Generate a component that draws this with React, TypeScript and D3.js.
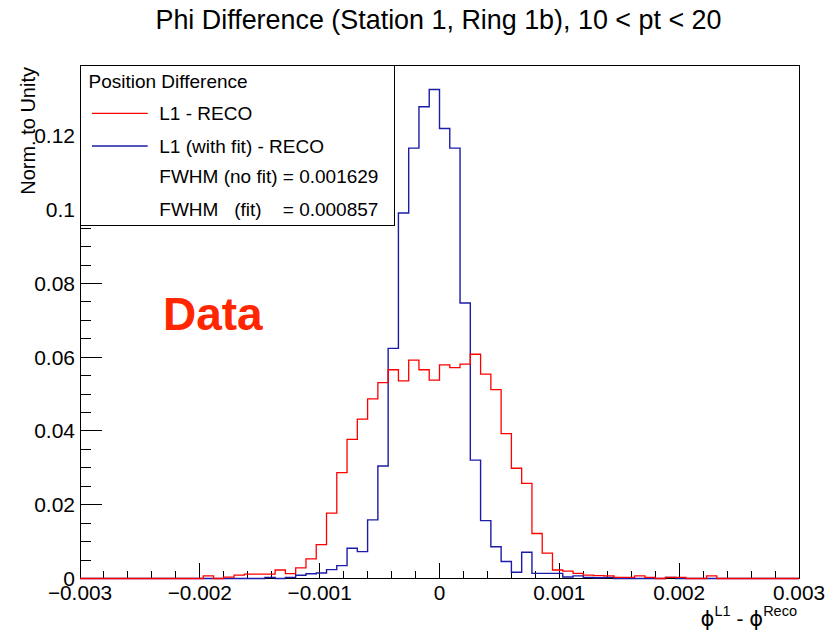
import React from 'react';
import * as d3 from 'd3';

const xMin = -0.003;
const xMax = 0.003;
const nBins = 70;

const redValues = [
  0, 0, 0, 0, 0, 0, 0, 0, 0, 0, 0, 0,
  0.0007, 0, 0.0004, 0.0009, 0.0012, 0.0012, 0.0012, 0.0023, 0.0013, 0.0029,
  0.0053, 0.0092, 0.0177, 0.0287, 0.0377, 0.0432, 0.0487, 0.0531, 0.0566, 0.0536,
  0.0592, 0.0566, 0.0538, 0.0579, 0.0572, 0.0581, 0.0608, 0.0554, 0.0512, 0.0393,
  0.0299, 0.0258, 0.0122, 0.0069, 0.0023, 0.0020, 0.0014, 0.0009, 0.0008, 0.0007,
  0.0003, 0.0003, 0.0007, 0.0003, 0, 0.0003, 0.0003, 0, 0, 0.0007,
  0, 0, 0, 0, 0, 0, 0, 0,
];

const blueValues = [
  0, 0, 0, 0, 0, 0, 0, 0, 0, 0, 0, 0, 0, 0, 0, 0, 0, 0,
  0.0003, 0, 0.0003, 0.0009, 0.0013, 0.0015, 0.0024, 0.0035, 0.0082, 0.0073,
  0.0159, 0.0305, 0.0624, 0.0991, 0.1167, 0.1279, 0.1326, 0.1220, 0.1167, 0.0747,
  0.0321, 0.0157, 0.0086, 0.0046, 0.0017, 0.0071, 0.0014, 0.0014, 0.0014, 0.0004,
  0.0007, 0.0003, 0.0002, 0.0003, 0, 0, 0, 0, 0, 0.0003,
  0, 0, 0, 0, 0, 0, 0, 0, 0, 0, 0, 0,
];

const xTickValues = [-0.003, -0.002, -0.001, 0, 0.001, 0.002, 0.003];
const xTickLabels = ['\u22120.003', '\u22120.002', '\u22120.001', '0', '0.001', '0.002', '0.003'];
const yTickValues = [0, 0.02, 0.04, 0.06, 0.08, 0.1, 0.12];
const yTickLabels = ['0', '0.02', '0.04', '0.06', '0.08', '0.1', '0.12'];

const titleText = 'Phi Difference (Station 1, Ring 1b), 10 < pt < 20';
const yTitle = 'Norm. to Unity';
const legendHeader = 'Position Difference';
const seriesNames = ['L1 - RECO', 'L1 (with fit) - RECO'];
const seriesColors = ['#ff0000', '#1c1ca8'];
const fwhmLines = ['FWHM (no fit) = 0.001629', 'FWHM   (fit)    = 0.000857'];

const W = 835;
const H = 633;
const left = 80;
const right = 799;
const top = 65;
const bottom = 578.5;
const FONT = '"Liberation Sans", Arial, Helvetica, sans-serif';

export default function App() {
  const binW = (xMax - xMin) / nBins;
  const yMax = (d3.max(blueValues) as number) * 1.05;
  const x = d3.scaleLinear().domain([xMin, xMax]).range([left, right]);
  const y = d3.scaleLinear().domain([0, yMax]).range([bottom, top]);

  const stepPath = (vals: number[]) => {
    const pts: [number, number][] = [];
    vals.forEach((v, i) => {
      pts.push([x(xMin + i * binW), y(v)]);
      pts.push([x(xMin + (i + 1) * binW), y(v)]);
    });
    return d3.line()(pts) as string;
  };

  const xMinor = d3.range(0, 31).map((i) => xMin + i * 0.0002);
  const yMinor = d3.range(0, 40).map((i) => i * 0.005).filter((v) => v <= yMax);
  const isMajorX = (v: number) => xTickValues.some((t) => Math.abs(t - v) < 1e-9);
  const isMajorY = (v: number) => yTickValues.some((t) => Math.abs(t - v) < 1e-9);

  const plotW = right - left;
  const plotH = bottom - top;

  const lgX0 = left;
  const lgY0 = top;
  const lgX1 = 394;
  const lgY1 = 225.7;

  return (
    <svg
      width={W}
      height={H}
      style={{ position: 'absolute', left: 0, top: 0, background: '#fff', display: 'block' }}
      fontFamily={FONT}
    >
      <rect x={0} y={0} width={W} height={H} fill="#fff" />
      <text x={438.5} y={29} textAnchor="middle" fontSize={26.9} fill="#000">
        {titleText}
      </text>

      <rect x={left} y={top} width={plotW} height={plotH} fill="none" stroke="#000" strokeWidth={1} shapeRendering="crispEdges" />

      {xMinor.map((v, i) => (
        <line
          key={'xt' + i}
          x1={x(v)}
          x2={x(v)}
          y1={bottom}
          y2={bottom - (isMajorX(v) ? plotH * 0.03 : plotH * 0.015)}
          stroke="#000"
          strokeWidth={1}
          shapeRendering="crispEdges"
        />
      ))}
      {yMinor.map((v, i) => (
        <line
          key={'yt' + i}
          x1={left}
          x2={left + (isMajorY(v) ? plotW * 0.03 : plotW * 0.015)}
          y1={y(v)}
          y2={y(v)}
          stroke="#000"
          strokeWidth={1}
          shapeRendering="crispEdges"
        />
      ))}

      <path d={stepPath(blueValues)} fill="none" stroke={seriesColors[1]} strokeWidth={1.4} />
      <path d={stepPath(redValues)} fill="none" stroke={seriesColors[0]} strokeWidth={1.3} />

      {xTickValues.map((v, i) => (
        <text key={'xl' + i} x={x(v)} y={599.5} textAnchor="middle" fontSize={20.8} fill="#000">
          {xTickLabels[i]}
        </text>
      ))}
      {yTickValues.map((v, i) => (
        <text key={'yl' + i} x={75} y={y(v) + 7.5} textAnchor="end" fontSize={21} fill="#000">
          {yTickLabels[i]}
        </text>
      ))}

      <text
        transform={`translate(35, ${top + 2}) rotate(-90)`}
        textAnchor="end"
        fontSize={20}
        fill="#000"
      >
        {yTitle}
      </text>
      <text x={797} y={626} textAnchor="end" fontSize={21} fill="#000">
        <tspan fontFamily='"DejaVu Sans", sans-serif'>{'\u03D5'}</tspan>
        <tspan fontSize={14.5} dy={-10}>L1</tspan>
        <tspan dy={10}>{' - '}</tspan>
        <tspan fontFamily='"DejaVu Sans", sans-serif'>{'\u03D5'}</tspan>
        <tspan fontSize={14.5} dy={-10}>Reco</tspan>
      </text>

      <text x={163} y={330} fontSize={46} fontWeight="bold" fill="#ff2600">
        Data
      </text>

      <rect
        x={lgX0}
        y={lgY0}
        width={lgX1 - lgX0}
        height={lgY1 - lgY0}
        fill="#fff"
        stroke="#000"
        strokeWidth={1}
        shapeRendering="crispEdges"
      />
      <text x={88.5} y={87.7} fontSize={19} fill="#000">
        {legendHeader}
      </text>
      {seriesNames.map((name, i) => {
        const cy = 113.3 + i * 32.7;
        return (
          <g key={'lg' + i}>
            <line x1={92} x2={147.7} y1={cy} y2={cy} stroke={seriesColors[i]} strokeWidth={1.3} />
            <text x={159.3} y={cy + 6.7} fontSize={19} fill="#000">
              {name}
            </text>
          </g>
        );
      })}
      {fwhmLines.map((t, i) => (
        <text key={'fw' + i} x={159.3} y={183.4 + i * 32.3} fontSize={19} fill="#000" style={{ whiteSpace: 'pre' }}>
          {t}
        </text>
      ))}
    </svg>
  );
}
